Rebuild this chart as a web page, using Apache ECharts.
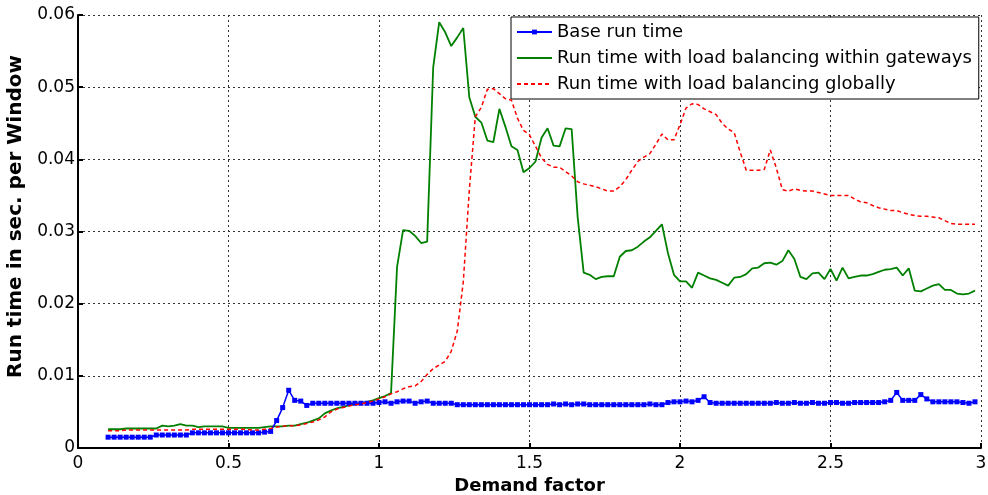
<!DOCTYPE html>
<html>
<head>
<meta charset="utf-8">
<script src="https://cdn.jsdelivr.net/npm/echarts@6/dist/echarts.min.js"></script>
<style>
html,body{margin:0;padding:0;background:#fff;}
#chart{width:988px;height:495px;}
</style>
</head>
<body>
<div id="chart"></div>
<script>
var demandFactor = [
0.10,0.12,0.14,0.16,0.18,0.20,0.22,0.24,0.26,0.28,
0.30,0.32,0.34,0.36,0.38,0.40,0.42,0.44,0.46,0.48,
0.50,0.52,0.54,0.56,0.58,0.60,0.62,0.64,0.66,0.68,
0.70,0.72,0.74,0.76,0.78,0.80,0.82,0.84,0.86,0.88,
0.90,0.92,0.94,0.96,0.98,1.00,1.02,1.04,1.06,1.08,
1.10,1.12,1.14,1.16,1.18,1.20,1.22,1.24,1.26,1.28,
1.30,1.32,1.34,1.36,1.38,1.40,1.42,1.44,1.46,1.48,
1.50,1.52,1.54,1.56,1.58,1.60,1.62,1.64,1.66,1.68,
1.70,1.72,1.74,1.76,1.78,1.80,1.82,1.84,1.86,1.88,
1.90,1.92,1.94,1.96,1.98,2.00,2.02,2.04,2.06,2.08,
2.10,2.12,2.14,2.16,2.18,2.20,2.22,2.24,2.26,2.28,
2.30,2.32,2.34,2.36,2.38,2.40,2.42,2.44,2.46,2.48,
2.50,2.52,2.54,2.56,2.58,2.60,2.62,2.64,2.66,2.68,
2.70,2.72,2.74,2.76,2.78,2.80,2.82,2.84,2.86,2.88,
2.90,2.92,2.94,2.96,2.98
];

var baseRunTime = [
0.0015,0.0015,0.0015,0.0015,0.0015,0.0015,0.0015,0.0015,0.0018,0.0018,
0.0018,0.0018,0.0018,0.0018,0.0021,0.0021,0.0021,0.0021,0.0021,0.0021,
0.0021,0.0021,0.0021,0.0021,0.0021,0.0021,0.0022,0.0023,0.0038,0.0056,
0.0080,0.0066,0.0065,0.0059,0.0062,0.0062,0.0062,0.0062,0.0062,0.0062,
0.0062,0.0062,0.0062,0.0062,0.0062,0.0063,0.0064,0.0062,0.0064,0.0065,
0.0065,0.0062,0.0064,0.0065,0.0062,0.0062,0.0062,0.0062,0.0060,0.0060,
0.0060,0.0060,0.0060,0.0060,0.0060,0.0060,0.0060,0.0060,0.0060,0.0060,
0.0060,0.0060,0.0060,0.0060,0.0061,0.0060,0.0061,0.0060,0.0061,0.0061,
0.0060,0.0060,0.0060,0.0060,0.0060,0.0060,0.0060,0.0060,0.0060,0.0060,
0.0061,0.0060,0.0060,0.0063,0.0064,0.0064,0.0065,0.0064,0.0066,0.0071,
0.0063,0.0062,0.0062,0.0062,0.0062,0.0062,0.0062,0.0062,0.0062,0.0062,
0.0062,0.0063,0.0062,0.0062,0.0063,0.0062,0.0062,0.0063,0.0062,0.0062,
0.0063,0.0063,0.0062,0.0062,0.0063,0.0063,0.0063,0.0063,0.0063,0.0064,
0.0066,0.0077,0.0066,0.0066,0.0066,0.0074,0.0068,0.0064,0.0064,0.0064,
0.0064,0.0064,0.0063,0.0062,0.0064
];

var withinGateways = [
0.0026,0.0026,0.0026,0.0027,0.0027,0.0027,0.0027,0.0027,0.0027,0.0031,
0.0030,0.0031,0.0033,0.0031,0.0031,0.0029,0.0030,0.0030,0.0030,0.0030,
0.0028,0.0028,0.0028,0.0028,0.0028,0.0028,0.0029,0.0030,0.0030,0.0030,
0.0031,0.0031,0.0033,0.0035,0.0038,0.0041,0.0048,0.0052,0.0055,0.0057,
0.0059,0.0061,0.0062,0.0064,0.0066,0.0069,0.0072,0.0076,0.0251,0.0302,
0.0301,0.0294,0.0284,0.0286,0.0527,0.0590,0.0576,0.0557,0.0569,0.0582,
0.0486,0.0459,0.0451,0.0426,0.0424,0.0470,0.0445,0.0418,0.0413,0.0382,
0.0388,0.0397,0.0430,0.0443,0.0419,0.0418,0.0443,0.0442,0.0320,0.0243,
0.0240,0.0234,0.0237,0.0238,0.0238,0.0265,0.0273,0.0274,0.0279,0.0286,
0.0292,0.0301,0.0310,0.0270,0.0240,0.0231,0.0231,0.0222,0.0243,0.0239,
0.0235,0.0233,0.0229,0.0225,0.0236,0.0237,0.0241,0.0249,0.0250,0.0256,
0.0257,0.0254,0.0259,0.0274,0.0262,0.0237,0.0234,0.0242,0.0243,0.0234,
0.0248,0.0232,0.0250,0.0235,0.0237,0.0239,0.0239,0.0241,0.0244,0.0247,
0.0248,0.0250,0.0239,0.0249,0.0218,0.0217,0.0221,0.0225,0.0227,0.0219,
0.0219,0.0214,0.0213,0.0214,0.0218
];

var globally = [
0.0024,0.0024,0.0024,0.0025,0.0025,0.0025,0.0025,0.0025,0.0025,0.0025,
0.0025,0.0025,0.0025,0.0025,0.0026,0.0026,0.0026,0.0026,0.0026,0.0026,
0.0026,0.0026,0.0026,0.0026,0.0025,0.0025,0.0026,0.0027,0.0029,0.0030,
0.0031,0.0031,0.0032,0.0034,0.0036,0.0039,0.0043,0.0050,0.0054,0.0056,
0.0058,0.0060,0.0061,0.0063,0.0065,0.0068,0.0071,0.0075,0.0078,0.0082,
0.0085,0.0086,0.0092,0.0102,0.0110,0.0115,0.0120,0.0134,0.0162,0.0230,
0.0357,0.0459,0.0472,0.0497,0.0498,0.0491,0.0484,0.0482,0.0457,0.0440,
0.0434,0.0418,0.0402,0.0393,0.0389,0.0389,0.0383,0.0377,0.0369,0.0366,
0.0364,0.0362,0.0359,0.0356,0.0356,0.0362,0.0372,0.0385,0.0397,0.0403,
0.0408,0.0421,0.0435,0.0427,0.0427,0.0448,0.0471,0.0477,0.0476,0.0470,
0.0466,0.0462,0.0450,0.0442,0.0437,0.0410,0.0385,0.0385,0.0385,0.0386,
0.0413,0.0388,0.0358,0.0356,0.0359,0.0357,0.0356,0.0356,0.0354,0.0352,
0.0350,0.0350,0.0350,0.0350,0.0345,0.0341,0.0340,0.0336,0.0333,0.0331,
0.0329,0.0329,0.0326,0.0324,0.0322,0.0321,0.0321,0.0320,0.0319,0.0315,
0.0311,0.0310,0.0310,0.0310,0.0310
];

var seriesNames = [
  'Base run time',
  'Run time with load balancing within gateways',
  'Run time with load balancing globally'
];

function pairs(ys) {
  return demandFactor.map(function (x, i) { return [x, ys[i]]; });
}

var FONT = '"DejaVu Sans", "Liberation Sans", Arial, sans-serif';
var HIDDEN = {color: 'rgba(0,0,0,0)', borderColor: 'rgba(0,0,0,0)', borderWidth: 0};
var chart = echarts.init(document.getElementById('chart'), null, {renderer: 'canvas'});

chart.setOption({
  animation: false,
  backgroundColor: '#ffffff',
  grid: {left: 78, right: 7, top: 15, bottom: 47, containLabel: false, outerBoundsMode: 'none'},
  legend: {
    orient: 'vertical',
    left: 511,
    top: 17,
    padding: [6, 7, 6, 5],
    itemGap: 8,
    itemWidth: 35,
    itemHeight: 6,
    backgroundColor: '#ffffff',
    borderColor: '#000000',
    borderWidth: 1,
    borderRadius: 0,
    textStyle: {fontFamily: FONT, fontSize: 18, lineHeight: 18, color: '#000'},
    data: [
      {name: seriesNames[0]},
      {name: seriesNames[1], itemStyle: HIDDEN},
      {name: seriesNames[2], itemStyle: HIDDEN}
    ]
  },
  xAxis: {
    type: 'value',
    min: 0, max: 3, interval: 0.5,
    name: 'Demand factor',
    nameLocation: 'middle',
    nameGap: 27,
    nameTextStyle: {fontFamily: FONT, fontSize: 18, fontWeight: 'bold', color: '#000'},
    axisLine: {show: true, onZero: false, lineStyle: {color: '#000', width: 2}},
    axisTick: {show: true, inside: true, length: 5, lineStyle: {color: '#000', width: 2}},
    axisLabel: {fontFamily: FONT, fontSize: 17, color: '#000', margin: 7},
    splitLine: {show: true, lineStyle: {color: '#333', width: 1, type: [2, 3]}}
  },
  yAxis: {
    type: 'value',
    min: 0, max: 0.06, interval: 0.01,
    name: 'Run time in sec. per Window',
    nameLocation: 'middle',
    nameGap: 52,
    nameTextStyle: {fontFamily: FONT, fontSize: 20, fontWeight: 'bold', color: '#000', padding: [0, 0, 0, 30]},
    axisLine: {show: true, lineStyle: {color: '#000', width: 2}},
    axisTick: {show: true, inside: true, length: 5, lineStyle: {color: '#000', width: 2}},
    axisLabel: {fontFamily: FONT, fontSize: 17, color: '#000', margin: 3},
    splitLine: {show: true, lineStyle: {color: '#333', width: 1, type: [2, 3]}}
  },
  series: [
    {
      name: seriesNames[0],
      type: 'line',
      data: pairs(baseRunTime),
      symbol: 'rect',
      symbolSize: 5,
      showSymbol: true,
      itemStyle: {color: '#0000ff'},
      lineStyle: {color: '#0000ff', width: 1.5},
      z: 3
    },
    {
      name: seriesNames[1],
      type: 'line',
      data: pairs(withinGateways),
      symbol: 'none',
      itemStyle: {color: '#008000'},
      lineStyle: {color: '#008000', width: 1.8},
      z: 2
    },
    {
      name: seriesNames[2],
      type: 'line',
      data: pairs(globally),
      symbol: 'none',
      itemStyle: {color: '#ff0000'},
      lineStyle: {color: '#ff0000', width: 1.5, type: [4, 3]},
      z: 4
    }
  ]
});
</script>
</body>
</html>
